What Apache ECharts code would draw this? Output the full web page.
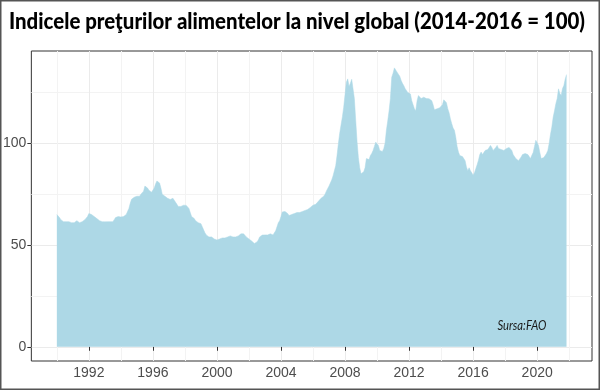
<!DOCTYPE html>
<html>
<head>
<meta charset="utf-8">
<script src="https://cdn.jsdelivr.net/npm/echarts@6/dist/echarts.min.js"></script>
<style>
html,body{margin:0;padding:0;background:#fff;}
#chart{width:600px;height:390px;}
</style>
</head>
<body>
<div id="chart"></div>
<script>
// Monthly FAO Food Price Index (2014-2016 = 100), Jan 1990 - Nov 2021
const startYear = 1990;
const idx1990 = [65, 64.5, 63.5, 62.5, 62, 61.5, 61, 61.5, 62, 61.5, 61, 61];
const idx1991 = [61.5, 61, 61.5, 62, 61.5, 61, 61, 61.5, 62, 62.5, 63, 64];
const idx1992 = [65.5, 65.8, 65, 64.5, 64, 63.5, 63, 62.5, 62, 61.8, 61.5, 61.5];
const idx1993 = [61.4, 61.2, 61.5, 62, 61.5, 61, 61.5, 62.5, 63.5, 63.5, 64, 64];
const idx1994 = [63.8, 63.5, 64, 64.5, 65, 65.5, 68, 70.5, 72.5, 73, 73.5, 74];
const idx1995 = [74, 74.5, 74, 75, 75.5, 76.5, 79, 79.4, 78, 77, 76.5, 76];
const idx1996 = [76.5, 78, 80, 81.5, 81, 80.5, 78, 75, 74.5, 74, 73.5, 73];
const idx1997 = [72.5, 72.4, 72.8, 73, 72, 71, 70, 69, 68.8, 69, 69.5, 69.6];
const idx1998 = [69.6, 69.5, 69, 68, 66, 64, 63.9, 63, 62, 61.5, 61, 60.8];
const idx1999 = [60.5, 59, 57.5, 56, 55, 54.9, 54, 53.5, 54, 53.5, 53, 52.8];
const idx2000 = [52.5, 52.5, 53, 53.5, 53.5, 54, 53.5, 54, 54, 54.5, 54.5, 54];
const idx2001 = [54, 53.5, 54, 54, 54.5, 55, 55.5, 56, 55.5, 55, 54, 53.5];
const idx2002 = [53, 52.5, 52, 51.5, 50.8, 50.8, 51.5, 52.5, 54, 54.5, 54.9, 54.9];
const idx2003 = [55, 55.5, 55, 55, 55.5, 55.7, 55, 55.5, 57, 59, 61, 62];
const idx2004 = [64, 66.3, 67, 66.5, 66, 65.5, 64.5, 65, 65, 65.2, 65.5, 66];
const idx2005 = [66, 65.8, 66, 66.3, 66.5, 67, 67, 67, 67.5, 68, 68.5, 69];
const idx2006 = [69.6, 70, 70, 70.5, 71.5, 72, 73, 73, 74, 75, 76.5, 77.8];
const idx2007 = [79, 80.5, 82, 84, 86.5, 89, 94, 99.8, 105, 109, 113, 117.8];
const idx2008 = [124, 130, 131.7, 128, 129.5, 131.5, 130.9, 122, 111.3, 101, 93, 88];
const idx2009 = [85, 84.3, 86, 88, 92.5, 93, 92, 94, 95, 96.5, 98.5, 100.6];
const idx2010 = [101, 99, 96.5, 95.7, 96, 97.4, 100, 106.5, 111, 116, 122, 132.5];
const idx2011 = [134.5, 137.1, 136, 135, 134, 133, 131, 129.5, 128.4, 127, 126, 125];
const idx2012 = [124.5, 124.3, 121, 119, 117, 116, 121, 123.5, 123, 122, 122.5, 122.7];
const idx2013 = [122.5, 122, 122, 121.9, 121.5, 121, 119, 116.5, 116, 117, 117.8, 117.5];
const idx2014 = [117, 119, 121.4, 121, 120, 117, 115, 112, 109.6, 107.5, 106.4, 103];
const idx2015 = [98.5, 95.7, 94, 94.5, 93.5, 92.5, 91.5, 88.4, 86.5, 88, 86.5, 85.5];
const idx2016 = [84.3, 85.5, 87.5, 89.5, 91.7, 94.5, 95.7, 94.5, 95.5, 96.5, 96, 97];
const idx2017 = [97.4, 99, 98, 96.5, 97, 98, 99, 97.5, 96.9, 97, 97.4, 96.5];
const idx2018 = [97, 97.5, 97.9, 98, 98.5, 96.5, 94.5, 93.5, 92.5, 92.5, 91.5, 91.5];
const idx2019 = [93.3, 94.5, 94.5, 95, 95, 94.5, 93.5, 92.5, 94.1, 95.5, 98.5, 101.5];
const idx2020 = [101.5, 99, 95.5, 92.5, 92, 93, 93.8, 95, 96.5, 100, 104.5, 108];
const idx2021 = [112.9, 116, 119.5, 122, 126.8, 124.5, 123.5, 127, 128.4, 131.5, 133.8];

const monthlyIndex = [].concat(idx1990, idx1991, idx1992, idx1993, idx1994, idx1995, idx1996,
  idx1997, idx1998, idx1999, idx2000, idx2001, idx2002, idx2003, idx2004, idx2005, idx2006,
  idx2007, idx2008, idx2009, idx2010, idx2011, idx2012, idx2013, idx2014, idx2015, idx2016,
  idx2017, idx2018, idx2019, idx2020, idx2021);

const xMajorTicks = [1992, 1996, 2000, 2004, 2008, 2012, 2016, 2020];
const xMinorTicks = [1990, 1994, 1998, 2002, 2006, 2010, 2014, 2018, 2022];
const yMajorTicks = [0, 50, 100];
const yMinorTicks = [25, 75, 125];

const titleText = 'Indicele preţurilor alimentelor la nivel global (2014-2016 = 100)';
const sourceText = 'Sursa:FAO';

const seriesData = monthlyIndex.map((v, i) => [startYear + i / 12, v]);
const lastX = startYear + (monthlyIndex.length - 1) / 12;
const xPad = (lastX - startYear) * 0.05;
const yMin = -7, yMax = 145.4;

const TICKFONT = '"Liberation Sans", Arial, sans-serif';

function fitScale(text, font, target) {
  const ctx = document.createElement('canvas').getContext('2d');
  ctx.font = font;
  return target / ctx.measureText(text).width;
}
const titleFont = '900 22px Lato';
const titleScale = fitScale(titleText, titleFont, 576);
const srcFont = 'italic 13px Lato';
const srcScale = fitScale(sourceText, srcFont, 49);

const chart = echarts.init(document.getElementById('chart'), null, {renderer: 'canvas'});
chart.setOption({
  animation: false,
  backgroundColor: '#ffffff',
  grid: {
    left: 30, right: 8, top: 51, bottom: 29,
    show: true, backgroundColor: '#fff', borderColor: '#333', borderWidth: 1,
    containLabel: false
  },
  xAxis: [{
    type: 'value', min: startYear - xPad, max: lastX + xPad,
    axisLine: {show: false},
    axisTick: {show: true, customValues: xMajorTicks, length: 4, lineStyle: {color: '#333'}},
    axisLabel: {customValues: xMajorTicks, formatter: v => String(v), color: '#4d4d4d', fontFamily: TICKFONT, fontSize: 14, margin: 5},
    splitLine: {show: true, lineStyle: {color: '#ebebeb', width: 1}}
  }, {
    type: 'value', min: startYear - xPad, max: lastX + xPad, position: 'bottom',
    axisLine: {show: false},
    axisTick: {show: false, customValues: xMinorTicks},
    axisLabel: {show: false, customValues: xMinorTicks},
    splitLine: {show: true, lineStyle: {color: '#f3f3f3', width: 1}}
  }],
  yAxis: [{
    type: 'value', min: yMin, max: yMax,
    axisLine: {show: false},
    axisTick: {show: true, customValues: yMajorTicks, length: 4, lineStyle: {color: '#333'}},
    axisLabel: {customValues: yMajorTicks, formatter: v => String(v), color: '#4d4d4d', fontFamily: TICKFONT, fontSize: 14, margin: 5},
    splitLine: {show: true, lineStyle: {color: '#ebebeb', width: 1}}
  }, {
    type: 'value', min: yMin, max: yMax,
    axisLine: {show: false},
    axisTick: {show: false, customValues: yMinorTicks},
    axisLabel: {show: false, customValues: yMinorTicks},
    splitLine: {show: true, lineStyle: {color: '#f3f3f3', width: 1}}
  }],
  series: [{
    type: 'line',
    xAxisIndex: 0, yAxisIndex: 0,
    data: seriesData,
    showSymbol: false,
    symbol: 'none',
    lineStyle: {width: 0.5, color: '#add8e6'},
    areaStyle: {color: '#add8e6', opacity: 1},
    z: 3
  }],
  graphic: [{
    type: 'text',
    x: 297, y: 22,
    scaleX: titleScale, scaleY: 1,
    style: {text: titleText, font: titleFont, fill: '#000', align: 'center', verticalAlign: 'middle'},
    z: 10
  }, {
    type: 'text',
    x: 522, y: 326,
    scaleX: srcScale, scaleY: 1,
    style: {text: sourceText, font: srcFont, fill: '#1a1a1a', align: 'center', verticalAlign: 'middle'},
    z: 10
  }, {
    type: 'rect',
    shape: {x: 0.75, y: 0.75, width: 598.5, height: 388.5},
    style: {fill: 'none', stroke: '#555', lineWidth: 1.5},
    z: 10
  }]
});
</script>
</body>
</html>
